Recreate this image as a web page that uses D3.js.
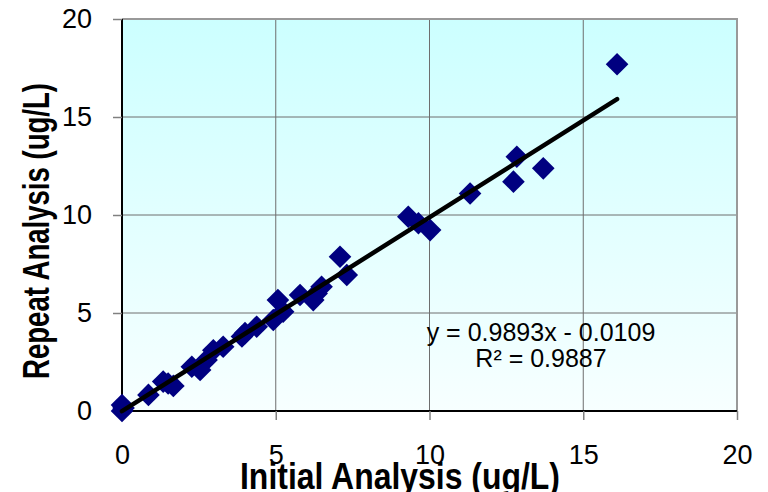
<!DOCTYPE html>
<html>
<head>
<meta charset="utf-8">
<script src="https://cdn.jsdelivr.net/npm/d3@7.9.0/dist/d3.min.js"></script>
<style>
  html, body { margin: 0; padding: 0; background: #fff; }
  svg { display: block; font-family: "Liberation Sans", Arial, sans-serif; }
</style>
</head>
<body>
<svg id="chart" width="768" height="492"></svg>
<script>
// values
const initial = [0, 0, 0.05, 0.86, 1.34, 1.5, 1.67, 2.27, 2.54, 2.75, 2.97, 3.29, 3.9, 4.0, 4.38, 4.92, 5.07, 5.24, 5.79, 6.22, 6.33, 6.49, 7.09, 7.31, 9.31, 9.64, 10.02, 11.32, 12.73, 12.84, 13.7, 16.1];
const repeat  = [0.3, 0, 0.15, 0.82, 1.5, 1.4, 1.28, 2.26, 2.09, 2.6, 3.1, 3.28, 3.8, 3.97, 4.3, 4.64, 5.66, 5.07, 5.92, 5.66, 6.0, 6.34, 7.87, 6.94, 9.91, 9.58, 9.23, 11.1, 11.7, 12.97, 12.38, 17.69];
const ticks = [0, 5, 10, 15, 20];
const slope = 0.9893, intercept = -0.0109;
const eqLines = ["y = 0.9893x - 0.0109", "R\u00b2 = 0.9887"];

const svg = d3.select("#chart");
const x = d3.scaleLinear().domain([0, 20]).range([122, 737]);
const y = d3.scaleLinear().domain([0, 20]).range([411, 19]);

// background gradient
const grad = svg.append("defs").append("linearGradient")
  .attr("id", "bg").attr("x1", 0).attr("y1", 0).attr("x2", 0).attr("y2", 1);
grad.append("stop").attr("offset", "0%").attr("stop-color", "#ccffff");
grad.append("stop").attr("offset", "100%").attr("stop-color", "#f7ffff");

svg.append("rect")
  .attr("x", x(0)).attr("y", y(20))
  .attr("width", x(20) - x(0)).attr("height", y(0) - y(20))
  .attr("fill", "url(#bg)");

// gridlines
svg.append("g").selectAll("line").data(ticks.slice(1, 4)).join("line")
  .attr("x1", x(0)).attr("x2", x(20))
  .attr("y1", d => y(d)).attr("y2", d => y(d))
  .attr("stroke", "#6e6e6e").attr("stroke-width", 1);
svg.append("g").selectAll("line").data(ticks.slice(1, 4)).join("line")
  .attr("y1", y(0)).attr("y2", y(20))
  .attr("x1", d => x(d)).attr("x2", d => x(d))
  .attr("stroke", "#6e6e6e").attr("stroke-width", 1);

// frame top/right
svg.append("path")
  .attr("d", `M${x(0)},${y(20)}H${x(20)}V${y(0)}`)
  .attr("fill", "none").attr("stroke", "#999").attr("stroke-width", 2);

// axes
const yAxis = svg.append("g").attr("transform", `translate(${x(0)},0)`)
  .call(d3.axisLeft(y).tickValues(ticks).tickSize(9).tickPadding(21));
const xAxis = svg.append("g").attr("transform", `translate(0,${y(0)})`)
  .call(d3.axisBottom(x).tickValues(ticks).tickSize(9).tickPadding(25));
[yAxis, xAxis].forEach(g => {
  g.select(".domain").attr("stroke", "#000").attr("stroke-width", 2);
  g.selectAll(".tick line").attr("stroke", "#808080").attr("stroke-width", 1.5);
  g.selectAll(".tick text").attr("font-size", 27).attr("fill", "#000")
    .attr("font-family", "'Liberation Sans', Arial, sans-serif");
});
xAxis.select(".domain").attr("d", `M${x(0)},0H${x(20)}`);
yAxis.select(".domain").attr("d", `M0,${y(0)}V${y(20)}`);

// points
const pts = initial.map((v, i) => ({ x: v, y: repeat[i] }));
const diamond = d3.symbol(d3.symbolSquare, 256);
svg.append("g").selectAll("path").data(pts).join("path")
  .attr("d", diamond)
  .attr("transform", d => `translate(${x(d.x)},${y(d.y)}) rotate(45)`)
  .attr("fill", "#000080");

// trendline
const xMin = d3.min(initial), xMax = d3.max(initial);
svg.append("line")
  .attr("x1", x(xMin)).attr("y1", y(slope * xMin + intercept))
  .attr("x2", x(xMax)).attr("y2", y(slope * xMax + intercept))
  .attr("stroke", "#000").attr("stroke-width", 4.5).attr("stroke-linecap", "round");

// equation
svg.append("g").selectAll("text").data(eqLines).join("text")
  .attr("x", 541).attr("y", (d, i) => 341 + i * 26)
  .attr("text-anchor", "middle").attr("font-size", 25).attr("fill", "#000")
  .text(d => d);

// axis titles
svg.append("text")
  .attr("x", 240).attr("y", 489)
  .attr("font-size", 36).attr("font-weight", "bold")
  .attr("textLength", 320).attr("lengthAdjust", "spacingAndGlyphs")
  .text("Initial Analysis (ug/L)");
svg.append("text")
  .attr("transform", "translate(49,379) rotate(-90)")
  .attr("font-size", 37).attr("font-weight", "bold")
  .attr("textLength", 296).attr("lengthAdjust", "spacingAndGlyphs")
  .text("Repeat Analysis (ug/L)");
</script>
</body>
</html>
